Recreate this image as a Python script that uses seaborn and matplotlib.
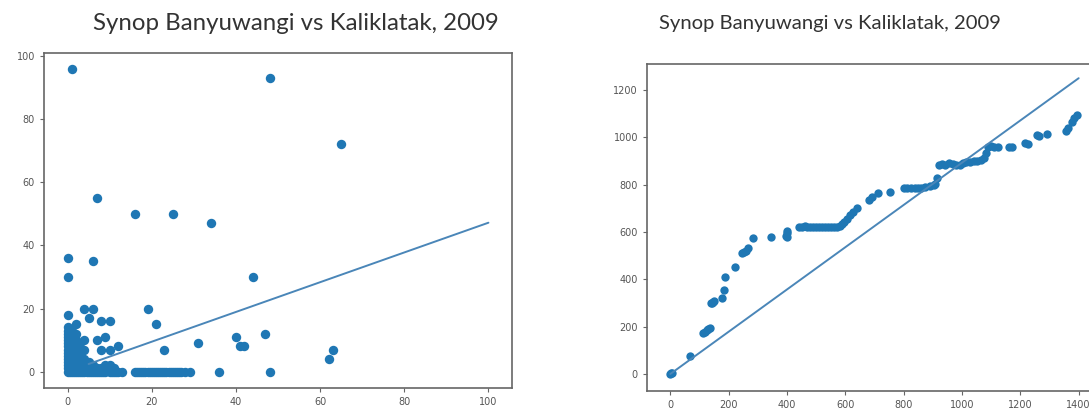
"""
Synop Banyuwangi vs Kaliklatak 2009 - daily scatter and double mass curve.
"""

import pandas as pd
import matplotlib
matplotlib.use("Agg")
import matplotlib.pyplot as plt
import seaborn as sns

TITLE = "Synop Banyuwangi vs Kaliklatak, 2009"
BLUE = "#1f77b4"

# daily rainfall (mm): Banyuwangi (x) vs Kaliklatak (y)
daily_x = [
    0, 0, 0, 0, 0, 0, 0, 0, 0, 0, 0, 0, 0, 0, 0, 0, 0, 0,
    0.5, 0.5, 0.5, 0.5, 0.5, 0.5, 0.5, 0.5, 0.5, 0.5, 0.5, 0.5, 0.5,
    1, 1, 1, 1, 1, 1, 1, 1, 1, 1, 1, 1, 1, 1, 1,
    1.5, 1.5, 1.5, 1.5, 1.5, 1.5, 1.5, 1.5, 1.5, 1.5,
    2, 2, 2, 2, 2, 2, 2, 2, 2, 2, 2,
    2.5, 2.5, 2.5, 2.5, 2.5, 2.5,
    3, 3, 3, 3, 3, 3, 3,
    3.5, 3.5, 3.5, 3.5,
    4, 4, 4, 4, 4, 4, 4,
    4.5, 4.5, 4.5,
    5, 5, 5, 5, 5.5, 5.5,
    6, 6, 6, 6, 6,
    6.5, 7, 7, 7, 7, 7.5,
    8, 8, 8, 8,
    8.5, 9, 9, 9, 9.5,
    10, 10, 10, 10,
    10.5, 11, 11, 11.5, 12, 12, 13,
    16, 17, 18, 19, 20, 21, 22, 23, 24, 25, 26, 27, 28, 29,
    16.5, 17.5, 18.5, 19.5, 20.5, 21.5, 22.5, 23.5, 24.5, 25.5, 26.5,
    16, 19, 21, 23, 25, 31, 34, 36, 40, 41, 42, 44, 47, 48, 48, 62, 63, 65,
]
daily_y = [
    0, 1, 2, 3, 4, 5, 6, 7, 8, 9, 10, 11, 12, 13, 14, 18, 30, 36,
    0, 1, 2, 3, 4, 5, 6, 7, 8, 9, 10, 11, 12,
    0, 1, 2, 3, 4, 5, 6, 7, 8, 9, 10, 11, 12, 13, 96,
    0, 1, 2, 3, 4, 5, 6, 7, 9, 11,
    0, 1, 2, 3, 4, 5, 6, 8, 10, 12, 15,
    0, 1, 2, 3, 4, 6,
    0, 1, 2, 3, 5, 7, 9,
    0, 1, 2, 4,
    0, 1, 2, 4, 7, 10, 20,
    0, 1, 2,
    0, 1, 3, 17, 0, 2,
    0, 1, 2, 20, 35,
    0, 0, 1, 10, 55, 0,
    0, 1, 7, 16,
    0, 0, 2, 11, 1,
    0, 2, 7, 16,
    0, 0, 1, 0, 0, 8, 0,
    0, 0, 0, 0, 0, 0, 0, 0, 0, 0, 0, 0, 0, 0,
    0, 0, 0, 0, 0, 0, 0, 0, 0, 0, 0,
    50, 20, 15, 7, 50, 9, 47, 0, 11, 8, 8, 30, 12, 0, 93, 4, 7, 72,
]
daily_fit_x = [5, 100]
daily_fit_y = [2.4, 47.2]

# cumulative rainfall (mm), double mass curve
cum_x = [
    0, 3, 6, 67, 112, 118, 124, 130, 136, 139, 143, 146, 150, 177, 183,
    189, 223, 247, 252, 258, 267, 285, 345, 398, 399, 400, 401,
    440, 450, 460, 470, 480, 490, 500, 510, 520, 530, 540, 550, 560, 570,
    580, 590, 597, 605, 615, 625, 639, 681, 690, 711, 753, 801, 810, 825,
    840, 850, 860, 873, 890, 905, 909, 915, 921, 930, 940, 957, 970, 980,
    993, 1005, 1015, 1029, 1040, 1050, 1065, 1075, 1082, 1089, 1100, 1110,
    1125, 1161, 1170, 1215, 1225, 1257, 1265, 1293, 1358, 1365, 1376, 1385,
    1394,
]
cum_y = [
    0, 3, 6, 76, 172, 178, 184, 188, 193, 299, 302, 305, 308, 320, 355,
    411, 453, 510, 515, 520, 531, 573, 577, 585, 594, 580, 603,
    622, 623, 624, 623, 622, 622, 621, 622, 621, 620, 621, 622, 621, 622,
    625, 632, 644, 655, 670, 685, 700, 735, 748, 763, 770, 785, 787, 785,
    786, 788, 786, 790, 795, 800, 804, 830, 883, 888, 885, 890, 886, 884,
    883, 890, 895, 897, 900, 902, 904, 912, 935, 960, 962, 958,
    960, 960, 958, 975, 970, 1010, 1005, 1014, 1028, 1040, 1065, 1080,
    1094,
]
cum_fit_x = [0, 1400]
cum_fit_y = [0, 1250]

daily = pd.DataFrame({"x": daily_x, "y": daily_y})
cum = pd.DataFrame({"x": cum_x, "y": cum_y})

sns.set_theme(style="white")
plt.rcParams["font.family"] = ["DejaVu Sans"]
plt.rcParams["axes.edgecolor"] = "#666666"
plt.rcParams["axes.linewidth"] = 1.2
plt.rcParams["xtick.color"] = "#666666"
plt.rcParams["ytick.color"] = "#666666"

W, H = 1089, 409
fig = plt.figure(figsize=(W / 100, H / 100), dpi=100)

ax1 = fig.add_axes([44 / W, (H - 388) / H, 468 / W, 335 / H])
ax2 = fig.add_axes([647 / W, (H - 391) / H, 490 / W, 327 / H])

for ax in (ax1, ax2):
    ax.tick_params(axis="both", which="both", bottom=True, left=True,
                   length=3, width=0.8, labelsize=7, labelcolor="#555555")

# left: daily scatter
sns.scatterplot(data=daily, x="x", y="y", ax=ax1, color=BLUE, s=46,
                linewidth=0, legend=False)
sns.lineplot(x=daily_fit_x, y=daily_fit_y, ax=ax1, color="#4a86b8", lw=1.4)
ax1.set_xticks([0, 20, 40, 60, 80, 100])
ax1.set_yticks([0, 20, 40, 60, 80, 100])
ax1.set_xlim(-5.6, 105.6)
ax1.set_ylim(-5.2, 101)
ax1.set_xlabel("")
ax1.set_ylabel("")

# right: double mass curve
sns.scatterplot(data=cum, x="x", y="y", ax=ax2, color=BLUE, s=36,
                linewidth=0, legend=False)
sns.lineplot(x=cum_fit_x, y=cum_fit_y, ax=ax2, color="#4a86b8", lw=1.4)
ax2.set_xticks([0, 200, 400, 600, 800, 1000, 1200, 1400])
ax2.set_yticks([0, 200, 400, 600, 800, 1000, 1200])
ax2.set_xlim(-80, 1600)
ax2.set_ylim(-72, 1310)
ax2.set_xlabel("")
ax2.set_ylabel("")

fig.text(296 / W, 1 - 24 / H, TITLE, ha="center", va="center",
         fontsize=17.3, color="#333333", family=["Lato", "DejaVu Sans"])
fig.text(830 / W, 1 - 24 / H, TITLE, ha="center", va="center",
         fontsize=14.6, color="#333333", family=["Lato", "DejaVu Sans"])

fig.savefig("out.png", dpi=100)
